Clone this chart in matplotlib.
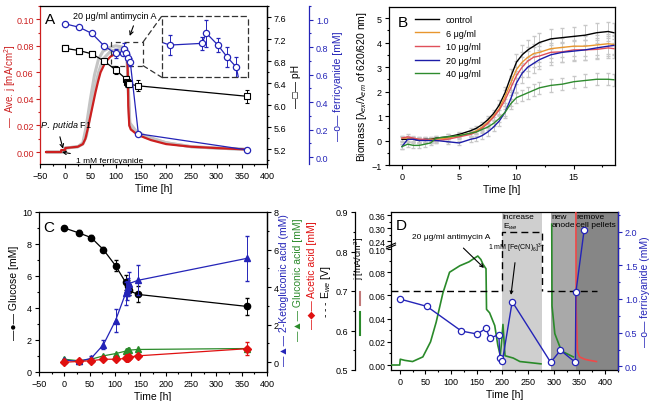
import numpy as np
import matplotlib.pyplot as plt
from matplotlib.patches import Rectangle, ConnectionPatch
from matplotlib.lines import Line2D
from matplotlib.ticker import MultipleLocator, FormatStrFormatter

plt.rcParams['font.family'] = ['Liberation Sans Narrow', 'Liberation Sans', 'DejaVu Sans']
plt.rcParams['mathtext.fontset'] = 'custom'
plt.rcParams['mathtext.rm'] = 'Liberation Sans'
plt.rcParams['mathtext.it'] = 'Liberation Sans:italic'

RED = '#cc1f1f'
BLUE = '#2424b8'
GREEN = '#2a8a2a'
TK = 6.5   # tick label size
LB = 7.5   # axis label size

# ---------------- data: panel A ----------------
curA_t = [-38, -8, -8, 0, 0, 25, 35, 40, 45, 50, 55, 60, 65, 70, 80, 90, 100, 110, 120, 123, 124,
          125, 127, 130, 140, 150, 170, 200, 250, 300, 358]
curA_j = [0, 0, 0.0015, 0.0015, 0.003, 0.004, 0.006, 0.01, 0.018, 0.027, 0.036, 0.045, 0.053, 0.06,
          0.068, 0.072, 0.074, 0.074, 0.0735, 0.072, 0.06, 0.035, 0.02, 0.017, 0.014, 0.012, 0.009,
          0.006, 0.004, 0.003, 0.002]
grayA_t = [-35, -5, 0, 25, 35, 42, 50, 58, 66, 75, 90, 100, 115, 122, 125, 128, 140, 160, 200, 250, 300, 360]
grayA_1 = [0, 0, 0.003, 0.004, 0.007, 0.02, 0.04, 0.058, 0.07, 0.076, 0.079, 0.08, 0.079, 0.078,
           0.045, 0.02, 0.015, 0.011, 0.007, 0.004, 0.003, 0.002]
grayA_2 = [0, 0, 0.003, 0.004, 0.006, 0.012, 0.03, 0.047, 0.06, 0.07, 0.076, 0.077, 0.077, 0.076,
           0.05, 0.022, 0.016, 0.012, 0.007, 0.004, 0.003, 0.002]
pH_t = [0, 28, 53, 77, 100, 121, 123, 125, 127, 145, 360]
pH_v = [7.03, 6.99, 6.93, 6.80, 6.64, 6.47, 6.42, 6.40, 6.38, 6.35, 6.16]
pH_e = [0.02, 0.02, 0.02, 0.03, 0.07, 0.06, 0.10, 0.08, 0.06, 0.10, 0.12]
feA_t = [0, 28, 53, 77, 100, 114, 116, 121, 125, 129, 145, 360]
feA_v = [0.97, 0.945, 0.90, 0.81, 0.755, 0.76, 0.79, 0.755, 0.72, 0.69, 0.17, 0.053]
feA_e = [0, 0, 0, 0, 0.03, 0.02, 0.04, 0.02, 0.03, 0.03, 0.01, 0.01]

# ---------------- data: panel B ----------------
tB = [0, 0.5, 1, 1.5, 2, 2.5, 3, 4, 5, 6, 6.5, 7, 7.5, 8, 8.5, 9, 9.5, 10, 10.5, 11, 11.5, 12,
      13, 14, 15, 16, 17, 18, 18.5]
b_control = [0.05, 0.05, 0.05, 0.0, 0.05, 0.05, 0.1, 0.15, 0.25, 0.4, 0.5, 0.65, 0.85, 1.1, 1.45,
             1.95, 2.6, 3.2, 3.5, 3.7, 3.85, 4.0, 4.15, 4.2, 4.25, 4.3, 4.4, 4.45, 4.4]
b_6 = [0.1, 0.1, 0.05, 0.05, 0.0, 0.05, 0.05, 0.1, 0.2, 0.3, 0.4, 0.55, 0.75, 1.0, 1.3, 1.8, 2.35,
       2.9, 3.2, 3.4, 3.55, 3.6, 3.75, 3.8, 3.85, 3.85, 3.9, 3.95, 3.92]
b_10 = [0.1, 0.15, 0.1, 0.05, 0.05, 0.0, 0.0, 0.05, 0.15, 0.25, 0.35, 0.5, 0.7, 0.95, 1.25, 1.65,
        2.15, 2.65, 3.0, 3.25, 3.4, 3.45, 3.6, 3.62, 3.7, 3.7, 3.72, 3.78, 3.75]
b_20 = [-0.25, 0.05, 0.05, 0.0, 0.0, 0.0, 0.0, -0.05, -0.1, 0.05, 0.1, 0.2, 0.35, 0.55, 0.8, 1.15,
        1.7, 2.35, 2.75, 3.0, 3.15, 3.3, 3.5, 3.6, 3.65, 3.7, 3.78, 3.85, 3.88]
b_40 = [-0.25, -0.15, -0.2, -0.2, -0.15, -0.1, 0.1, 0.15, 0.2, 0.3, 0.35, 0.45, 0.55, 0.7, 0.9,
        1.15, 1.5, 1.75, 1.85, 1.95, 2.05, 2.15, 2.25, 2.3, 2.4, 2.45, 2.5, 2.5, 2.48]
b_err = [0.1, 0.1, 0.1, 0.1, 0.1, 0.1, 0.1, 0.1, 0.1, 0.1, 0.1, 0.12, 0.15, 0.15, 0.2, 0.25, 0.3,
         0.35, 0.4, 0.4, 0.4, 0.4, 0.4, 0.4, 0.4, 0.4, 0.4, 0.4, 0.4]
b_err40 = [0.1, 0.1, 0.1, 0.1, 0.1, 0.1, 0.1, 0.1, 0.1, 0.1, 0.1, 0.1, 0.12, 0.12, 0.15, 0.15,
           0.2, 0.2, 0.22, 0.25, 0.25, 0.25, 0.25, 0.25, 0.25, 0.25, 0.25, 0.25, 0.25]
b_labels = ['control', '6 μg/ml', '10 μg/ml', '20 μg/ml', '40 μg/ml']
b_colors = ['black', '#e8962e', '#e0505a', '#1c1ca8', '#2e8b2e']

# ---------------- data: panel C ----------------
glu_t = [0, 28, 53, 77, 101, 121, 125, 127, 145, 360]
glu_v = [9.0, 8.7, 8.4, 7.65, 6.65, 5.6, 5.35, 5.1, 4.85, 4.1]
glu_e = [0.1, 0.15, 0.15, 0.15, 0.35, 0.45, 0.4, 0.3, 0.5, 0.55]
acid_t = [0, 28, 53, 77, 101, 121, 123, 125, 127, 145, 360]
kga_v = [0.12, 0.04, 0.21, 0.93, 2.22, 3.67, 3.84, 4.01, 4.18, 4.36, 5.53]
kga_e = [0.05, 0.05, 0.1, 0.25, 0.6, 0.6, 0.5, 0.5, 0.6, 0.8, 1.2]
glc_v = [0.16, 0.08, 0.16, 0.34, 0.46, 0.59, 0.61, 0.63, 0.64, 0.68, 0.73]
ace_v = [0.0, 0.04, 0.08, 0.16, 0.16, 0.2, 0.22, 0.25, 0.27, 0.34, 0.72]
ace_e = [0.05, 0.05, 0.05, 0.05, 0.05, 0.08, 0.08, 0.08, 0.08, 0.1, 0.35]

# ---------------- data: panel D ----------------
curD_t = [-17, 0, 1, 10, 25, 45, 60, 71, 84, 97, 117, 135, 143, 152, 158, 162, 168, 169, 175,
          185, 191, 196, 201, 205, 221, 234, 255, 275, np.nan, 296, 296.5, 302, 315, 338]
curD_j = [0, 0, 0.005, 0.004, 0.003, 0.007, 0.02, 0.037, 0.062, 0.08, 0.0856, 0.089, 0.0914,
          0.094, 0.091, 0.087, 0.083, 0.048, 0.045, 0.034, 0.017, 0.008, 0.035, 0.008, 0.006,
          0.003, 0.002, 0.001, np.nan, 0.318, 0.051, 0.027, 0.012, 0.007]
redD_t = [343, 343.5, 346, 350, 360, 370, 383]
redD_j = [0.38, 0.05, 0.012, 0.007, 0.005, 0.004, 0.003]
ewe_t1 = [-17, 199, 199, 277, 277]
ewe_v1 = [0.70, 0.70, 0.85, 0.85, 0.70]
ewe_t2 = [287, 384]
ewe_v2 = [0.70, 0.70]
feD_t = [0, 53, 120, 151, 168, 175, 193, 195, 200, 219, 294, 313, 342, 343, 359]
feD_v = [1.0, 0.89, 0.525, 0.48, 0.565, 0.42, 0.47, 0.12, 0.085, 0.96, 0.06, 0.24, 0.06, 1.1, 2.02]
phases = [(199, 277, '#cfcfcf'), (294, 343, '#a9a9a9'), (343, 425, '#868686')]

# ------------------------------------------------
fig = plt.figure(figsize=(6.5, 4.02), dpi=100)
W, H = 650.0, 402.0


def px_axes(l, t, r, b):
    return fig.add_axes([l / W, 1 - b / H, (r - l) / W, (b - t) / H])


def style(ax, color='black'):
    ax.tick_params(which='both', direction='out', labelsize=TK, width=0.8, colors=color, pad=2)
    ax.tick_params(which='major', length=3)
    ax.tick_params(which='minor', length=1.6)
    for s in ax.spines.values():
        s.set_linewidth(0.9)


def hide(ax, keep):
    for k, s in ax.spines.items():
        s.set_visible(k in keep)


# ================= A =================
axA = px_axes(40, 7, 267, 165)
for g in (grayA_1, grayA_2):
    axA.plot(grayA_t, g, color='#c4c4c4', lw=2.2)
axA.plot(curA_t, curA_j, color=RED, lw=1.6)
axA.set_xlim(-50, 400)
axA.set_ylim(-0.009, 0.11)
axA.xaxis.set_major_locator(MultipleLocator(50))
axA.xaxis.set_minor_locator(MultipleLocator(25))
axA.yaxis.set_major_locator(MultipleLocator(0.02))
axA.yaxis.set_minor_locator(MultipleLocator(0.01))
axA.yaxis.set_major_formatter(FormatStrFormatter('%.2f'))
style(axA)
axA.tick_params(axis='y', which='both', colors=RED, pad=1.5)
axA.spines['left'].set_color(RED)
axA.set_xlabel('Time [h]', fontsize=LB, labelpad=2)
axA.set_ylabel('—  Ave. j [mA/cm$^2$]', fontsize=7, color=RED)
axA.yaxis.set_label_coords(-0.098, 0.5)
axA.text(0.02, 0.89, 'A', transform=axA.transAxes, fontsize=11)

axpH = axA.twinx()
axpH.errorbar(pH_t, pH_v, yerr=pH_e, color='black', marker='s', mfc='white', mec='black',
              ms=4, lw=0.9, elinewidth=0.7, capsize=1.5, mew=0.8)
axpH.plot(pH_t[:3], pH_v[:3], ls='none', marker='s', mfc='#555555', mec='black', ms=4, mew=0.8)
axpH.set_ylim(4.93, 7.8)
axpH.yaxis.set_major_locator(MultipleLocator(0.4))
axpH.yaxis.set_minor_locator(MultipleLocator(0.2))
axpH.yaxis.set_major_formatter(FormatStrFormatter('%.1f'))
style(axpH)
hide(axpH, ['right'])
axpH.set_ylabel('—□— pH', fontsize=LB, labelpad=3)

axFe = axA.twinx()
axFe.spines['right'].set_position(('axes', 1.185))
axFe.errorbar(feA_t, feA_v, yerr=feA_e, color=BLUE, marker='o', mfc='white', mec=BLUE,
              ms=4.5, lw=0.9, elinewidth=0.7, capsize=1.5, mew=0.9)
axFe.set_ylim(-0.05, 1.1)
axFe.yaxis.set_major_locator(MultipleLocator(0.2))
axFe.yaxis.set_minor_locator(MultipleLocator(0.1))
axFe.yaxis.set_major_formatter(FormatStrFormatter('%.1f'))
style(axFe, BLUE)
hide(axFe, ['right'])
axFe.spines['right'].set_color(BLUE)
axFe.set_ylabel('—o— ferricyanide [mM]', fontsize=LB, color=BLUE, labelpad=3)

# inset zoom
axIn = axA.inset_axes([0.536, 0.549, 0.382, 0.386])
axIn.errorbar(feA_t, feA_v, yerr=feA_e, color=BLUE, marker='o', mfc='white', mec=BLUE,
              ms=4.5, lw=0.9, elinewidth=0.7, capsize=1.5, mew=0.9)
axIn.set_xlim(96.5, 134.3)
axIn.set_ylim(0.66, 0.84)
axIn.set_xticks([])
axIn.set_yticks([])
for s in axIn.spines.values():
    s.set_linestyle((0, (4, 3)))
    s.set_linewidth(0.9)
    s.set_color('#333333')
axA.add_patch(Rectangle((91.5, 0.065), 63.1, 0.018, fill=False, ls=(0, (4, 3)), lw=0.9,
                        ec='#333333', zorder=5))
for ya, yb in ((0.083, 1), (0.065, 0)):
    fig.add_artist(ConnectionPatch(xyA=(154.6, ya), coordsA=axA.transData, xyB=(0, yb),
                                   coordsB=axIn.transAxes, ls=(0, (4, 3)), lw=0.9, color='#333333'))

axA.annotate('20 μg/ml antimycin A', xy=(126, 0.0855), xytext=(15, 0.1025), fontsize=6.5,
             ha='left', va='center',
             arrowprops=dict(arrowstyle='->', lw=0.8, color='black', relpos=(0.75, 0)))
axA.annotate('$\\it{P.\\ putida}$ F1', xy=(-3, 0.0005), xytext=(2, 0.0205), fontsize=6.5,
             ha='center', va='center',
             arrowprops=dict(arrowstyle='->', lw=0.8, color='black', relpos=(0.35, 0)))
axA.annotate('1 mM ferricyanide', xy=(-12, 0.0003), xytext=(21, -0.006), fontsize=6,
             ha='left', va='center', arrowprops=dict(arrowstyle='->', lw=0.8, color='black'))

# ================= B =================
axB = px_axes(389, 8, 615, 166)
for v, e in zip([b_control, b_6, b_10, b_20, b_40], [b_err] * 4 + [b_err40]):
    axB.errorbar(tB, v, yerr=e, color='none', ecolor='#c8c8c8', elinewidth=0.7, capsize=1.2)
for v, lab, c in zip([b_control, b_6, b_10, b_20, b_40], b_labels, b_colors):
    axB.plot(tB, v, color=c, lw=1.0, label=lab)
axB.set_xlim(-1.13, 18.6)
axB.set_ylim(-1, 5.45)
axB.xaxis.set_major_locator(MultipleLocator(5))
axB.xaxis.set_minor_locator(MultipleLocator(2.5))
axB.yaxis.set_major_locator(MultipleLocator(1))
axB.yaxis.set_minor_locator(MultipleLocator(0.5))
style(axB)
axB.set_xlabel('Time [h]', fontsize=LB, labelpad=2)
axB.set_ylabel('Biomass [λ$_{ex}$/λ$_{em}$ of 620/620 nm]', fontsize=LB, labelpad=2)
axB.legend(loc='upper left', bbox_to_anchor=(0.08, 1.0), frameon=False, fontsize=6.5,
           handlelength=2.6, labelspacing=0.5, borderaxespad=0.5)
axB.text(0.04, 0.88, 'B', transform=axB.transAxes, fontsize=11)

# ================= C =================
axC = px_axes(39, 213, 267, 373)
axC.errorbar(glu_t, glu_v, yerr=glu_e, color='black', marker='o', ms=4.5, lw=0.9,
             elinewidth=0.7, capsize=1.5)
axC.set_xlim(-50, 400)
axC.set_ylim(0, 10)
axC.xaxis.set_major_locator(MultipleLocator(50))
axC.xaxis.set_minor_locator(MultipleLocator(25))
axC.yaxis.set_major_locator(MultipleLocator(2))
axC.yaxis.set_minor_locator(MultipleLocator(1))
style(axC)
axC.set_xlabel('Time [h]', fontsize=LB, labelpad=2)
axC.set_ylabel('—●— Glucose [mM]', fontsize=LB, labelpad=2)
axC.text(0.02, 0.88, 'C', transform=axC.transAxes, fontsize=11)

axC2 = axC.twinx()
axC2.errorbar(acid_t, kga_v, yerr=kga_e, color=BLUE, marker='^', ms=4.5, lw=0.9,
              elinewidth=0.7, capsize=1.5)
axC2.plot(acid_t, glc_v, color=GREEN, marker='^', ms=4.5, lw=0.9)
axC2.errorbar(acid_t, ace_v, yerr=ace_e, color='#e01010', marker='D', ms=3.8, lw=0.9,
              elinewidth=0.7, capsize=1.5)
axC2.set_ylim(-0.52, 8)
axC2.yaxis.set_major_locator(MultipleLocator(2))
axC2.yaxis.set_minor_locator(MultipleLocator(1))
style(axC2)
hide(axC2, ['right'])
fig.text(284 / W, 1 - 290 / H, '—▲— 2-Ketogluconic acid (mM)', rotation=90, color=BLUE,
         fontsize=LB, ha='center', va='center')
fig.text(298 / W, 1 - 280 / H, '—▲— Gluconic acid [mM]', rotation=90, color=GREEN,
         fontsize=LB, ha='center', va='center')
fig.text(312 / W, 1 - 275 / H, '—◆— Acetic acid [mM]', rotation=90, color='#e01010',
         fontsize=LB, ha='center', va='center')

# ================= D =================
LOW_TOP, GAP = 0.10, 0.24
UP0, UPS = 0.1069, 0.187


def fwd(y):
    y = np.asarray(y, dtype=float)
    mid = LOW_TOP + (y - LOW_TOP) * (UP0 - LOW_TOP) / (GAP - LOW_TOP)
    return np.where(y <= LOW_TOP, y, np.where(y < GAP, mid, UP0 + (y - GAP) * UPS))


def inv(z):
    z = np.asarray(z, dtype=float)
    mid = LOW_TOP + (z - LOW_TOP) * (GAP - LOW_TOP) / (UP0 - LOW_TOP)
    return np.where(z <= LOW_TOP, z, np.where(z < UP0, mid, GAP + (z - UP0) / UPS))


axD = px_axes(391, 213, 618, 371)
for x0, x1, c in phases:
    axD.axvspan(x0, x1, color=c, lw=0, zorder=0)
axD.plot(curD_t, curD_j, color=GREEN, lw=1.2, zorder=3)
axD.plot(redD_t, redD_j, color='#f04848', lw=1.2, zorder=3)
axD.set_yscale('function', functions=(fwd, inv))
axD.set_xlim(-17, 425)
axD.set_ylim(-0.0043, 0.374)
axD.set_yticks([0, 0.02, 0.04, 0.06, 0.08, 0.10, 0.24, 0.30, 0.36])
axD.set_yticks([0.01, 0.03, 0.05, 0.07, 0.09, 0.27, 0.33], minor=True)
axD.yaxis.set_major_formatter(FormatStrFormatter('%.2f'))
axD.xaxis.set_major_locator(MultipleLocator(50))
axD.xaxis.set_minor_locator(MultipleLocator(25))
style(axD)
axD.tick_params(axis='y', which='both', pad=1.2, labelsize=6.2)
axD.set_xlabel('Time [h]', fontsize=LB, labelpad=2)
yb = (371 - 246) / 158.0
for dy in (-0.012, 0.0):
    axD.plot([-0.02, 0.02], [yb + dy - 0.012, yb + dy + 0.012], transform=axD.transAxes,
             color='black', lw=0.8, clip_on=False, zorder=6)
axD.text(0.02, 0.89, 'D', transform=axD.transAxes, fontsize=11)

axE = axD.twinx()
axE.plot(ewe_t1, ewe_v1, color='black', lw=1.0, ls=(0, (5, 3)))
axE.plot(ewe_t2, ewe_v2, color='black', lw=1.0, ls=(0, (5, 3)))
axE.set_ylim(0.5, 0.9)
axE.yaxis.set_ticks_position('left')
axE.yaxis.set_label_position('left')
axE.spines['left'].set_position(('axes', -0.159))
axE.yaxis.set_major_locator(MultipleLocator(0.1))
axE.yaxis.set_minor_locator(MultipleLocator(0.05))
style(axE)
hide(axE, ['left'])
axE.set_ylabel('- - - E$_{we}$ [V]', fontsize=LB, labelpad=2)

axF = axD.twinx()
axF.plot(feD_t, feD_v, color=BLUE, marker='o', mfc='white', mec=BLUE, ms=4.5, lw=1.0, mew=0.9)
axF.set_ylim(-0.053, 2.29)
axF.yaxis.set_major_locator(MultipleLocator(0.5))
axF.yaxis.set_minor_locator(MultipleLocator(0.25))
style(axF, BLUE)
hide(axF, ['right'])
axF.spines['right'].set_color(BLUE)
axF.set_ylabel('—o— ferricyanide (mM)', fontsize=LB, color=BLUE, labelpad=2)

fig.text(359.5 / W, 1 - 259 / H, 'j [mA/cm$^2$]', rotation=90, fontsize=6.5, ha='center', va='center')
fig.add_artist(Line2D([360 / W, 360 / W], [1 - 293 / H, 1 - 306 / H], color='#c07878', lw=1.5))
fig.add_artist(Line2D([360 / W, 360 / W], [1 - 313 / H, 1 - 336 / H], color=GREEN, lw=1.5))

axD.annotate('20 μg/ml antimycin A', xy=(168, 0.082), xytext=(0.264, 0.848), textcoords='axes fraction',
             fontsize=6, ha='center', va='center',
             arrowprops=dict(arrowstyle='->', lw=0.8, color='black', shrinkA=6))
axF.annotate('1 mM [Fe(CN)$_6$]$^{3-}$', xy=(216, 1.02), xytext=(172, 1.76), fontsize=5,
             ha='left', va='center', arrowprops=dict(arrowstyle='->', lw=0.8, color='black',
                                                     shrinkA=4))
axD.text(201, 0.371, 'increase\nE$_{we}$', fontsize=6, va='top', ha='left', linespacing=1.2)
axD.text(296, 0.371, 'new\nanode', fontsize=6, va='top', ha='left', linespacing=1.2)
axD.text(344, 0.371, 'remove\ncell pellets', fontsize=6, va='top', ha='left', linespacing=1.2)

fig.savefig('out.png', dpi=100)
